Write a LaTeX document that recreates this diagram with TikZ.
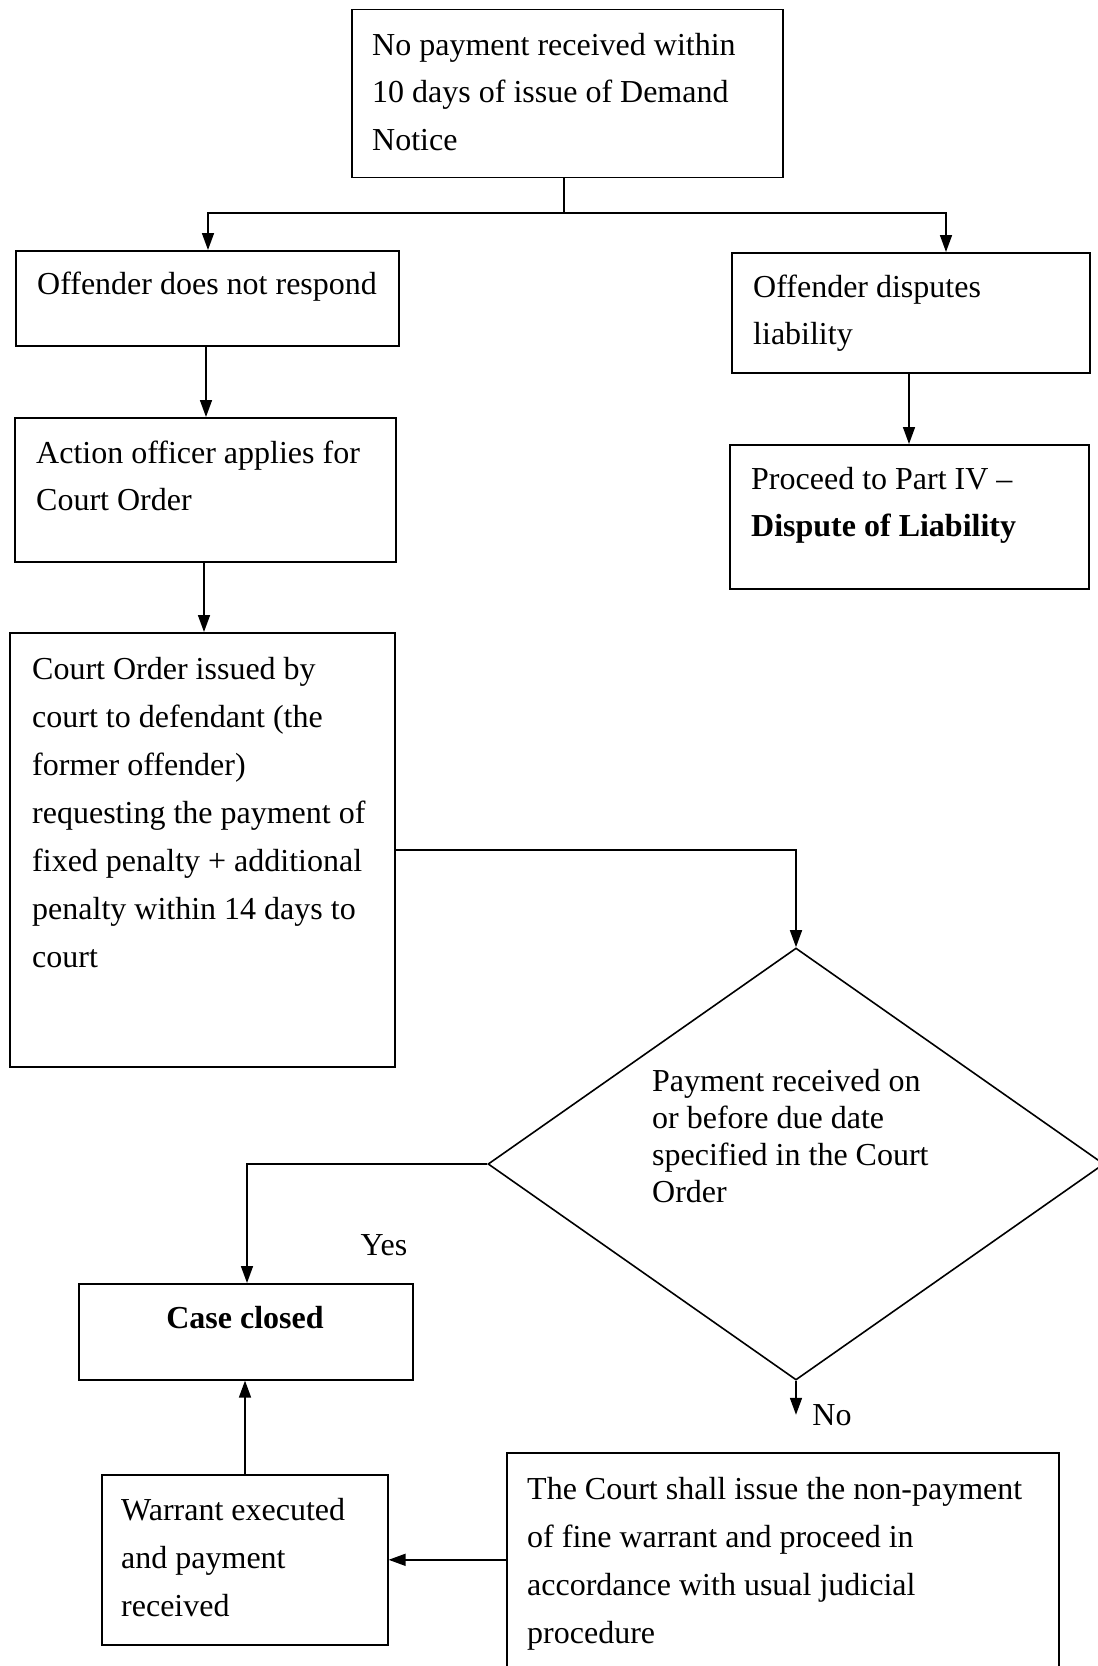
\documentclass[tikz,border=0pt]{standalone}
\usepackage{fontspec}
\setmainfont{Liberation Serif}
\usetikzlibrary{arrows.meta,shapes.geometric}
\newcommand{\fsz}{\fontsize{32}{47.5}\selectfont}
\newcommand{\fszd}{\fontsize{32}{37}\selectfont}
\tikzset{
  box/.style={draw, line width=1.6pt, inner sep=0pt, anchor=north west},
  txt/.style={anchor=north west, inner sep=0pt, align=left, font=\fsz},
  conn/.style={line width=1.6pt, -{Triangle[length=17pt,width=12pt]}},
  plain/.style={line width=1.6pt},
}
\begin{document}
\begin{tikzpicture}[x=1pt,y=-1pt]
\useasboundingbox (0,0) rectangle (1098,1666);
\clip (0,0) rectangle (1098,1666);
% boxes
\node[box, minimum width=431pt, minimum height=168pt] (top) at (351,8.5) {};
\node[box, minimum width=383pt, minimum height=95pt] (nores) at (15,250) {};
\node[box, minimum width=358pt, minimum height=120pt] (disp) at (731,252) {};
\node[box, minimum width=359pt, minimum height=144pt] (part) at (729,444) {};
\node[box, minimum width=381pt, minimum height=144pt] (act) at (14,417) {};
\node[box, minimum width=385pt, minimum height=434pt] (order) at (9,632) {};
\node[draw, line width=1.6pt, diamond, inner sep=0pt, minimum width=616pt, minimum height=432pt] (dec) at (796,1164) {};
\node[box, minimum width=334pt, minimum height=96pt] (closed) at (78,1283) {};
\node[box, minimum width=286pt, minimum height=170pt] (warr) at (101,1474) {};
\node[box, minimum width=552pt, minimum height=240pt] (court) at (506,1452) {};
% texts
\node[txt] (ttop) at (372,21.6) {\strut No payment received within\\10 days of issue of Demand\\Notice};
\node[txt] (tnores) at (37,261) {\strut Offender does not respond};
\node[txt] (tdisp) at (753,264) {\strut Offender disputes\\liability};
\node[txt] (tpart) at (751,456) {\strut Proceed to Part IV --\\\textbf{Dispute of Liability}};
\node[txt] (tact) at (36,430) {\strut Action officer applies for\\Court Order};
\node[txt, font=\fontsize{32}{48}\selectfont] (torder) at (32,646) {\strut Court Order issued by\\court to defendant (the\\former offender)\\requesting the payment of\\fixed penalty + additional\\penalty within 14 days to\\court};
\node[txt, font=\fszd] (tdec) at (652,1065) {\strut Payment received on\\or before due date\\specified in the Court\\Order};
\node[inner sep=0pt, font=\fsz] (yes) at (384,1245) {Yes};
\node[inner sep=0pt, font=\fsz\bfseries] (tclosed) at (245,1318) {Case closed};
\node[txt, font=\fontsize{32}{48}\selectfont] (twarr) at (121,1487) {\strut Warrant executed\\and payment\\received};
\node[inner sep=0pt, font=\fsz] (no) at (832,1415) {No};
\node[txt, font=\fontsize{32}{48}\selectfont] (tcourt) at (527,1466) {\strut The Court shall issue the non-payment\\of fine warrant and proceed in\\accordance with usual judicial\\procedure};
% connectors
\coordinate (split) at (564,213);
\draw[plain] (top.south -| split) -- (split);
\draw[conn] (split) -| (nores.north -| 208,0);
\draw[conn] (split) -| (disp.north -| 946,0);
\draw[conn] (nores.south -| 206,0) -- (act.north -| 206,0);
\draw[conn] (disp.south -| 909,0) -- (part.north -| 909,0);
\draw[conn] (act.south -| 204,0) -- (order.north -| 204,0);
\draw[conn] (order.east |- 0,850) -| (dec.north);
\draw[conn] (dec.west) -| (closed.north -| 247,0);
\draw[conn] (dec.south) -- ++(0,34) coordinate (noend);
\draw[conn] (court.west |- warr.east) -- (warr.east);
\draw[conn] (warr.north -| 245,0) -- (closed.south -| 245,0);
\end{tikzpicture}
\end{document}
